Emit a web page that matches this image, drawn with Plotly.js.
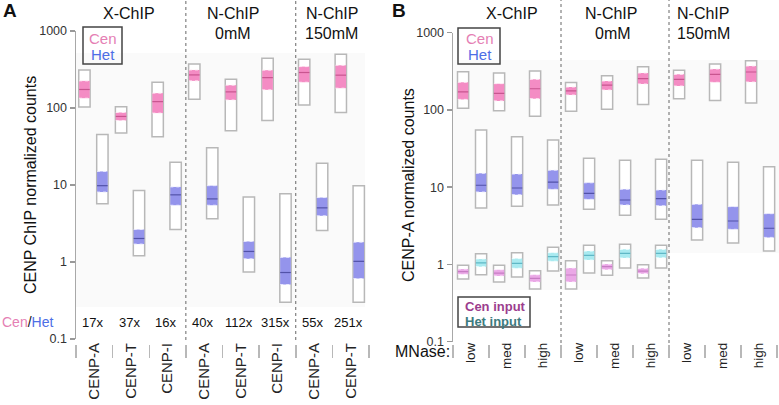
<!DOCTYPE html>
<html><head><meta charset="utf-8">
<script src="https://cdn.plot.ly/plotly-3.0.1.min.js"></script>
<style>html,body{margin:0;padding:0;background:#fff}</style>
</head><body><div id="chart" style="width:779px;height:405px"></div>
<script>
// ---------- Panel A data ----------
const aCategories = ['CENP-A','CENP-T','CENP-I','CENP-A','CENP-T','CENP-I','CENP-A','CENP-T'];
const aRatios = ['17x','37x','16x','40x','112x','315x','55x','251x'];
const aCenUpper   = [312, 104, 216, 374, 237, 443, 430, 499];
const aCenNotchHi = [225, 87.5, 156, 312, 198, 310, 345, 359];
const aCenMedian  = [174, 77.7, 121, 269, 162, 248, 289, 267];
const aCenNotchLo = [134, 68.9, 85.9, 225, 127, 172, 216, 181];
const aCenLower   = [103, 47.3, 42.4, 130, 50.7, 68.9, 109, 87.5];
const aHetUpper   = [45.4, 8.46, 19.7, 30.5, 7.0, 7.67, 19.1, 9.8];
const aHetNotchHi = [15.0, 2.64, 9.44, 9.8, 1.85, 1.15, 6.87, 1.81];
const aHetMedian  = [9.8, 2.02, 7.45, 6.6, 1.37, 0.73, 5.05, 1.02];
const aHetNotchLo = [8.1, 1.71, 5.46, 5.46, 1.10, 0.51, 3.98, 0.61];
const aHetLower   = [5.7, 1.21, 2.64, 3.64, 0.74, 0.30, 2.56, 0.30];

// ---------- Panel B data ----------
const bCategories = ['low','med','high','low','med','high','low','med','high'];
const bCenUpper   = [312, 301, 319, 226, 277, 363, 326, 394, 434];
const bCenNotchHi = [228, 219, 249, 198, 237, 301, 289, 339, 371];
const bCenMedian  = [171, 164, 188, 177, 210, 254, 249, 289, 310];
const bCenNotchLo = [137, 131, 140, 156, 181, 217, 204, 228, 230];
const bCenLower   = [105, 97.7, 82.8, 96.2, 102, 118, 140, 133, 123];
const bHetUpper   = [54.9, 45.1, 40.8, 23.7, 22.3, 23.0, 22.3, 21.0, 18.4];
const bHetNotchHi = [15.1, 14.8, 16.6, 11.4, 9.4, 9.2, 6.01, 5.6, 4.54];
const bHetMedian  = [10.6, 9.77, 11.6, 8.34, 6.83, 7.1, 3.84, 3.65, 2.94];
const bHetNotchLo = [8.67, 8.0, 9.4, 6.97, 5.89, 5.76, 2.99, 2.85, 2.24];
const bHetLower   = [5.38, 5.66, 5.89, 5.17, 4.32, 3.84, 2.07, 1.90, 1.49];
const bCenInUpper   = [0.975, 0.975, 0.830, 1.12, 1.12, 0.99];
const bCenInNotchHi = [0.873, 0.855, 0.736, 0.90, 1.01, 0.89];
const bCenInMedian  = [0.806, 0.774, 0.662, 0.73, 0.935, 0.82];
const bCenInNotchLo = [0.745, 0.708, 0.593, 0.593, 0.855, 0.76];
const bCenInLower   = [0.648, 0.593, 0.481, 0.481, 0.723, 0.667];
const bHetInUpper   = [1.38, 1.42, 1.67, 1.77, 1.82, 1.77];
const bHetInNotchHi = [1.18, 1.19, 1.42, 1.49, 1.57, 1.57];
const bHetInMedian  = [1.05, 1.03, 1.26, 1.31, 1.39, 1.39];
const bHetInNotchLo = [0.935, 0.892, 1.10, 1.14, 1.21, 1.22];
const bHetInLower   = [0.736, 0.689, 0.822, 0.774, 0.90, 0.90];

// ---------- styles ----------
const W = 779, H = 405;
const px = v => v / W, py = v => 1 - v / H;
const BOXW = 0.31;
const styles = {
  cen:   {fill:'#f48cc4', med:'#c8558f', dash:'rgba(255,235,245,0.9)'},
  het:   {fill:'#9494ec', med:'#5252a8', dash:'rgba(235,235,255,0.9)'},
  cenIn: {fill:'#eaa8e6', med:'#c77cc4', dash:'rgba(255,240,255,0.9)'},
  hetIn: {fill:'#a9eaf0', med:'#5fb8c6', dash:'rgba(240,255,255,0.9)'}
};
const outer = [], inner = [], lines = [];
function addBoxes(xs, up, nhi, med, nlo, lo, st, xa, ya) {
  const common = {xaxis: xa, yaxis: ya, hoverinfo: 'skip', showlegend: false};
  outer.push(Object.assign({type:'bar', x: xs, base: lo, y: up.map((u,i)=>u-lo[i]), width: BOXW,
    marker:{color:'#ffffff', line:{color:'#b8b8b8', width:1.5}}}, common));
  inner.push(Object.assign({type:'bar', x: xs, base: nlo, y: nhi.map((u,i)=>u-nlo[i]), width: BOXW - 0.02,
    marker:{color: st.fill, line:{width:0}}}, common));
  const seg = vals => ({x: xs.flatMap(x=>[x-BOXW/2+0.01, x+BOXW/2-0.01, null]), y: vals.flatMap(v=>[v, v, null])});
  lines.push(Object.assign({type:'scatter', mode:'lines', line:{color: st.dash, width:1, dash:'dot'}}, seg(nhi), common));
  lines.push(Object.assign({type:'scatter', mode:'lines', line:{color: st.dash, width:1, dash:'dot'}}, seg(nlo), common));
  lines.push(Object.assign({type:'scatter', mode:'lines', line:{color: st.med, width:1.2}}, seg(med), common));
}
const aIdx = aCategories.map((_, i) => i);
const bIdx = bCategories.map((_, i) => i);
addBoxes(aIdx.map(i=>i-0.27), aCenUpper, aCenNotchHi, aCenMedian, aCenNotchLo, aCenLower, styles.cen, 'x', 'y');
addBoxes(aIdx.map(i=>i+0.22), aHetUpper, aHetNotchHi, aHetMedian, aHetNotchLo, aHetLower, styles.het, 'x', 'y');
addBoxes(bIdx.map(i=>i-0.22), bCenUpper, bCenNotchHi, bCenMedian, bCenNotchLo, bCenLower, styles.cen, 'x2', 'y2');
addBoxes(bIdx.map(i=>i+0.28), bHetUpper, bHetNotchHi, bHetMedian, bHetNotchLo, bHetLower, styles.het, 'x2', 'y2');
const inIdx = bCenInUpper.map((_, i) => i);
addBoxes(inIdx.map(i=>i-0.22), bCenInUpper, bCenInNotchHi, bCenInMedian, bCenInNotchLo, bCenInLower, styles.cenIn, 'x2', 'y2');
addBoxes(inIdx.map(i=>i+0.28), bHetInUpper, bHetInNotchHi, bHetInMedian, bHetInNotchLo, bHetInLower, styles.hetIn, 'x2', 'y2');
const data = outer.concat(inner, lines);

const yTicks = [0.1, 1, 10, 100, 1000];
const yText = ['0.1', '1', '10', '100', '1000'];
function yAxis(dom, anchor) {
  return {domain: dom, anchor: anchor, type:'log', range:[-1, 3], tickmode:'array', tickvals: yTicks, ticktext: yText,
    ticks:'outside', ticklen:5, tickwidth:1.5, tickcolor:'#999', showline:true, linecolor:'#a8a8a8', linewidth:1.5,
    showgrid:false, zeroline:false, tickfont:{size:12.5, color:'#333'}, fixedrange:true};
}
function xAxis(dom, n, labels, pos, fsize) {
  return {domain: dom, range:[-0.5, n - 0.5], anchor:'free', position: pos, tickmode:'array',
    tickvals: labels.map((_, i)=>i), ticktext: labels, ticks:'', tickangle:-90, tickfont:{size: fsize, color:'#222'},
    ticklabelstandoff: -5,
    showgrid:false, zeroline:false, showline:false, fixedrange:true,
    minor:{tickmode:'array', tickvals: labels.map((_, i)=>i-0.5).concat([n-0.5]), ticks:'outside', ticklen:13,
      tickwidth:1.5, tickcolor:'#b8b8b8', showgrid:false}};
}

const ann = [];
function txt(text, x, y, size, opts) {
  ann.push(Object.assign({text: text, x: px(x), y: py(y), xref:'paper', yref:'paper', showarrow:false,
    xanchor:'center', yanchor:'middle', font:{size: size, color:'#111'}}, opts || {}));
}
txt('<b>A</b>', 10, 10, 19);
txt('<b>B</b>', 399, 10, 19);
txt('X-ChIP', 129, 14, 16);
txt('N-ChIP', 233, 14, 16); txt('0mM', 233, 33, 16);
txt('N-ChIP', 331.5, 14, 16); txt('150mM', 331.5, 33, 16);
txt('X-ChIP', 512, 14, 16);
txt('N-ChIP', 611, 14, 16); txt('0mM', 613, 33, 16);
txt('N-ChIP', 675, 14, 16, {xanchor:'left'}); txt('150mM', 675, 33, 16, {xanchor:'left'});
txt('CENP ChIP normalized counts', 30, 185, 16, {textangle:-90});
txt('CENP-A normalized counts', 408, 185, 16, {textangle:-90});
txt('Cen', 103, 38, 15, {font:{size:15, color:'#e57fb4'}});
txt('Het', 103, 55, 15, {font:{size:15, color:'#4d6ee6'}});
txt('Cen', 480, 38, 15, {font:{size:15, color:'#e57fb4'}});
txt('Het', 480, 55, 15, {font:{size:15, color:'#4d6ee6'}});
txt('<b>Cen input</b>', 463, 306, 13, {xanchor:'left', font:{size:13, color:'#9c3d8e'}});
txt('<b>Het input</b>', 463, 321, 13, {xanchor:'left', font:{size:13, color:'#3d7b80'}});
txt('<span style="color:#e57fb4">Cen</span>/<span style="color:#4d6ee6">Het</span>', 27, 322, 14);
txt('MNase:', 452, 351, 16, {xanchor:'right'});
aRatios.forEach((r, i) => ann.push({text: r, x: i - 0.05, xref:'x', y: py(322), yref:'paper', showarrow:false,
  xanchor:'center', yanchor:'middle', font:{size:13, color:'#111'}}));

const shapes = [
  {type:'rect', xref:'paper', yref:'paper', x0:px(76), x1:px(365), y0:py(307), y1:py(53), fillcolor:'#fafafa', line:{width:0}, layer:'below'},
  {type:'rect', xref:'paper', yref:'paper', x0:px(453), x1:px(670), y0:py(290), y1:py(60), fillcolor:'#fafafa', line:{width:0}, layer:'below'},
  {type:'rect', xref:'paper', yref:'paper', x0:px(670), x1:px(779), y0:py(253), y1:py(60), fillcolor:'#fafafa', line:{width:0}, layer:'below'},
  {type:'rect', xref:'paper', yref:'paper', x0:px(83), x1:px(122), y0:py(64), y1:py(27), line:{color:'#444', width:1.5}},
  {type:'rect', xref:'paper', yref:'paper', x0:px(458), x1:px(500), y0:py(64), y1:py(28), line:{color:'#444', width:1.5}},
  {type:'rect', xref:'paper', yref:'paper', x0:px(458), x1:px(530), y0:py(327), y1:py(297), line:{color:'#444', width:1.5}}
];
[2.5, 5.5].forEach(v => {
  shapes.push({type:'line', xref:'x', yref:'paper', x0:v, x1:v, y0:py(340), y1:1, line:{color:'#666', width:1, dash:'dot'}});
  shapes.push({type:'line', xref:'x2', yref:'paper', x0:v, x1:v, y0:py(343), y1:1, line:{color:'#666', width:1, dash:'dot'}});
});

const layout = {
  width: W, height: H, margin:{l:0, r:0, t:0, b:0}, paper_bgcolor:'#fff', plot_bgcolor:'rgba(0,0,0,0)',
  font:{family:'"Liberation Sans", Arial, sans-serif', color:'#111'},
  barmode:'overlay', showlegend:false,
  xaxis: xAxis([px(76), px(369)], aCategories.length, aCategories, py(344), 15),
  yaxis: yAxis([py(339), py(31)], 'x'),
  xaxis2: xAxis([px(453), px(777)], bCategories.length, bCategories, py(344), 13.5),
  yaxis2: yAxis([py(341.7), py(32.7)], 'x2'),
  annotations: ann, shapes: shapes
};
Plotly.newPlot('chart', data, layout, {staticPlot:true, displayModeBar:false});
</script></body></html>
